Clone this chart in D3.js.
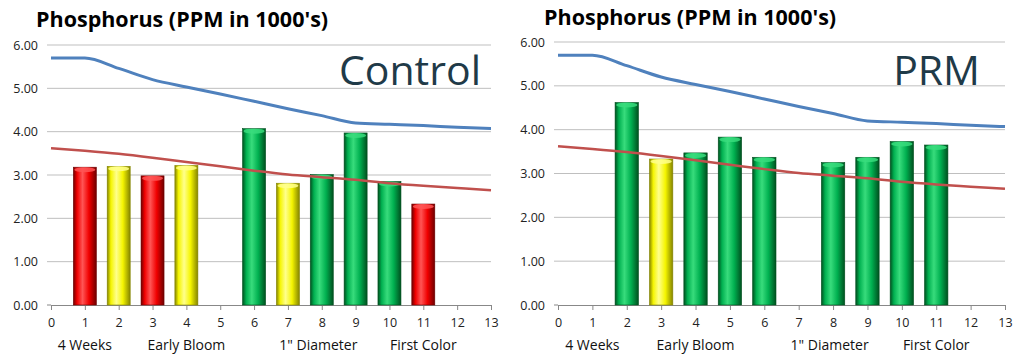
<!DOCTYPE html>
<html>
<head>
<meta charset="utf-8">
<script src="https://cdn.jsdelivr.net/npm/d3@7"></script>
<style>
  body { margin: 0; background: #fff; }
  .title { font-family: "Open Sans", sans-serif; font-weight: bold; font-size: 21.5px; fill: #000; }
  .tick text { font-family: "Open Sans", sans-serif; font-size: 12.5px; fill: #222; }
  .group { font-family: "Open Sans", sans-serif; font-size: 14px; fill: #111; }
  .big { font-family: "Open Sans", sans-serif; font-size: 41px; fill: #1f3a48; }
</style>
</head>
<body>
<div id="container"></div>
<script>
// Data ---------- ---------- ----------
let weeks = [0,1,2,3,4,5,6,7,8,9,10,11,12,13];
let yTicks = [0,1,2,3,4,5,6];
let groupNames = ["4 Weeks", "Early Bloom", "1\" Diameter", "First Color"];
let groupPos = [1, 4, 7.9, 11];
let upperLine = [5.70, 5.70, 5.46, 5.20, 5.03, 4.87, 4.70, 4.53, 4.37, 4.20, 4.17, 4.14, 4.10, 4.07];
let lowerLine = [3.62, 3.56, 3.49, 3.40, 3.30, 3.20, 3.10, 3.01, 2.95, 2.89, 2.81, 2.75, 2.70, 2.65];

let controlX = [1, 2, 3, 4, 6, 7, 8, 9, 10, 11];
let controlP = [3.18, 3.20, 2.98, 3.22, 4.07, 2.81, 3.01, 3.97, 2.85, 2.33];
let controlC = ["red","yellow","red","yellow","green","yellow","green","green","green","red"];

let prmX = [2, 3, 4, 5, 6, 8, 9, 10, 11];
let prmP = [4.62, 3.33, 3.47, 3.83, 3.37, 3.25, 3.37, 3.73, 3.65];
let prmC = ["green","yellow","green","green","green","green","green","green","green"];

// Canvas ---------- ---------- ----------
let canvasW = 1024, canvasH = 363;
let svg = d3.select("#container").append("svg").attr("width", canvasW).attr("height", canvasH);

// Gradients for the cylinder look
let colors = {
  red:    {dark:"#6e0000", base:"#f00000", light:"#ff5555"},
  yellow: {dark:"#858500", base:"#f5f500", light:"#ffff8c"},
  green:  {dark:"#00501f", base:"#00b050", light:"#38dc7c"}
};
let defs = svg.append("defs");
Object.keys(colors).forEach(k=>{
  let c = colors[k];
  let gr = defs.append("linearGradient").attr("id","grad_"+k).attr("x1","0%").attr("x2","100%");
  gr.append("stop").attr("offset","0%").attr("stop-color", c.dark);
  gr.append("stop").attr("offset","16%").attr("stop-color", c.base);
  gr.append("stop").attr("offset","40%").attr("stop-color", c.light);
  gr.append("stop").attr("offset","68%").attr("stop-color", c.base);
  gr.append("stop").attr("offset","100%").attr("stop-color", c.dark);
});

// Panel ---------- ---------- ----------
function panel(opt)
{
  let g = svg.append("g");
  let x = d3.scaleLinear().domain([0,13]).range(opt.xr);
  let y = d3.scaleLinear().domain([0,6]).range(opt.yr);
  let step = x(1) - x(0);
  let bw = step * 0.68;

  // Title
  g.append("text").attr("class","title").attr("x", opt.tx).attr("y", opt.ty).text("Phosphorus (PPM in 1000's)");

  // Grid lines
  g.selectAll(".grid").data(yTicks.filter(d=>d>0)).enter().append("line")
    .attr("x1", x(0) - 4).attr("x2", x(13))
    .attr("y1", d=>y(d)).attr("y2", d=>y(d))
    .attr("stroke", "#bfbfbf").attr("stroke-width", 1);

  // Y axis labels
  let yAxis = g.append("g").attr("transform","translate("+x(0)+",0)")
    .call(d3.axisLeft(y).tickValues(yTicks).tickFormat(d3.format(".2f")).tickSize(0).tickPadding(13));
  yAxis.select(".domain").remove();

  // X axis
  let xAxis = g.append("g").attr("transform","translate(0,"+y(0)+")")
    .call(d3.axisBottom(x).tickValues(weeks).tickFormat(d3.format("d")).tickSizeOuter(0).tickSizeInner(5).tickPadding(8));
  xAxis.select(".domain").attr("stroke","#888");
  xAxis.selectAll(".tick line").attr("stroke","#888");
  g.append("line").attr("x1", x(0)-4).attr("x2", x(0)).attr("y1", y(0)).attr("y2", y(0)).attr("stroke","#888");

  // Group labels
  g.selectAll(".group").data(groupNames).enter().append("text")
    .attr("class","group").attr("text-anchor","middle")
    .attr("x", (d,i)=>x(groupPos[i])).attr("y", 350).text(d=>d);

  // Bars
  let bars = g.selectAll(".bar").data(opt.bx).enter().append("g").attr("class","bar");
  bars.append("rect")
    .attr("x", d=>x(d) - bw/2).attr("y", (d,i)=>y(opt.bv[i]))
    .attr("width", bw).attr("height", (d,i)=>y(0) - y(opt.bv[i]))
    .attr("fill", (d,i)=>"url(#grad_"+opt.bc[i]+")")
    .attr("stroke", (d,i)=>colors[opt.bc[i]].dark).attr("stroke-width", 0.6);
  bars.append("ellipse")
    .attr("cx", d=>x(d)).attr("cy", (d,i)=>y(opt.bv[i]) + 2.5)
    .attr("rx", bw/2 - 1).attr("ry", 2.5)
    .attr("fill", (d,i)=>colors[opt.bc[i]].light).attr("opacity", 0.85);

  // Lines
  let line = d3.line().x((d,i)=>x(weeks[i])).y(d=>y(d)).curve(d3.curveMonotoneX);
  g.append("path").datum(lowerLine).attr("d", line)
    .attr("fill","none").attr("stroke","#c0504d").attr("stroke-width", 2.5);
  g.append("path").datum(upperLine).attr("d", line)
    .attr("fill","none").attr("stroke","#4f81bd").attr("stroke-width", 3);

  // Panel name
  g.append("text").attr("class","big").attr("text-anchor","end")
    .attr("x", opt.nx).attr("y", 85).text(opt.name);
}

panel({xr:[51,491], yr:[305,45], tx:36, ty:27, nx:481, name:"Control", bx:controlX, bv:controlP, bc:controlC});
panel({xr:[558,1005], yr:[305,42], tx:544, ty:25, nx:980, name:"PRM", bx:prmX, bv:prmP, bc:prmC});
</script>
</body>
</html>
